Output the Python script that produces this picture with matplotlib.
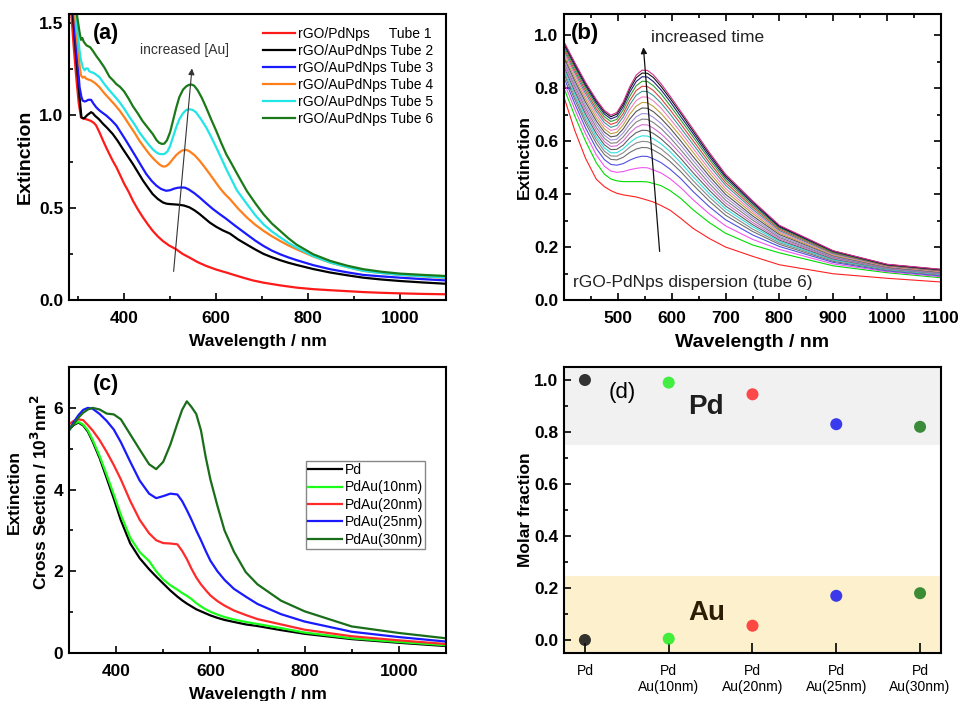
import matplotlib
matplotlib.use('Agg')
import matplotlib.pyplot as plt
from matplotlib.ticker import MultipleLocator

plt.rcParams['font.family'] = ['Liberation Sans', 'DejaVu Sans']

# ---------------- Panel (a) data ----------------
a_wl_t1 = [283, 290, 296, 301, 306, 312, 317, 323, 328, 334, 339, 346, 354, 361, 368, 375, 383, 391, 400, 410, 419, 430, 441, 452, 462, 473, 484, 498, 513, 527, 542, 560, 578, 600, 622, 640, 660, 680, 703, 740, 775, 810, 848, 885, 920, 960, 1000, 1050, 1100]
a_ext_t1 = [1.62, 1.38, 1.20, 1.07, 0.99, 0.982, 0.98, 0.975, 0.97, 0.96, 0.946, 0.91, 0.864, 0.826, 0.79, 0.755, 0.72, 0.678, 0.63, 0.585, 0.538, 0.49, 0.447, 0.408, 0.375, 0.345, 0.32, 0.295, 0.275, 0.25, 0.23, 0.205, 0.185, 0.165, 0.149, 0.135, 0.12, 0.106, 0.094, 0.079, 0.067, 0.059, 0.053, 0.048, 0.043, 0.039, 0.036, 0.033, 0.031]
a_wl_t2 = [286, 293, 299, 303, 307, 311, 314, 318, 321, 325, 328, 332, 336, 345, 354, 364, 375, 386, 397, 408, 419, 430, 441, 452, 462, 473, 484, 492, 499, 510, 520, 530, 542, 553, 564, 575, 586, 600, 614, 630, 648, 667, 685, 703, 721, 739, 757, 775, 811, 848, 885, 920, 960, 1000, 1050, 1100]
a_ext_t2 = [1.62, 1.40, 1.22, 1.10, 0.99, 0.985, 0.987, 0.998, 1.005, 1.012, 1.018, 1.012, 1.0, 0.98, 0.955, 0.93, 0.90, 0.862, 0.819, 0.778, 0.737, 0.692, 0.647, 0.608, 0.574, 0.548, 0.529, 0.522, 0.52, 0.518, 0.516, 0.512, 0.502, 0.486, 0.466, 0.443, 0.42, 0.397, 0.378, 0.36, 0.328, 0.30, 0.274, 0.25, 0.232, 0.216, 0.202, 0.19, 0.168, 0.149, 0.134, 0.121, 0.111, 0.103, 0.095, 0.088]
a_wl_t3 = [288, 295, 300, 303, 307, 310, 314, 317, 322, 328, 333, 339, 345, 350, 361, 372, 383, 393, 404, 415, 426, 437, 448, 460, 470, 480, 491, 500, 508, 516, 524, 532, 540, 552, 564, 578, 593, 608, 622, 640, 667, 685, 703, 721, 739, 757, 775, 811, 848, 885, 920, 960, 1000, 1050, 1100]
a_ext_t3 = [1.62, 1.38, 1.25, 1.154, 1.10, 1.08, 1.076, 1.078, 1.085, 1.085, 1.065, 1.045, 1.03, 1.02, 1.0, 0.975, 0.946, 0.907, 0.864, 0.819, 0.774, 0.728, 0.683, 0.645, 0.62, 0.602, 0.592, 0.595, 0.603, 0.608, 0.61, 0.609, 0.60, 0.58, 0.556, 0.525, 0.493, 0.465, 0.44, 0.405, 0.355, 0.322, 0.293, 0.268, 0.248, 0.231, 0.216, 0.189, 0.167, 0.15, 0.136, 0.128, 0.121, 0.113, 0.106]
a_wl_t4 = [290, 296, 300, 303, 306, 310, 314, 317, 322, 328, 337, 346, 357, 368, 379, 390, 401, 412, 423, 433, 444, 455, 465, 477, 483, 488, 494, 500, 506, 513, 520, 526, 531, 537, 542, 553, 564, 575, 586, 597, 607, 618, 630, 648, 667, 685, 703, 721, 739, 757, 775, 811, 848, 885, 920, 960, 1000, 1050, 1100]
a_ext_t4 = [1.62, 1.45, 1.35, 1.27, 1.217, 1.205, 1.21, 1.20, 1.195, 1.19, 1.175, 1.154, 1.12, 1.09, 1.06, 1.027, 0.988, 0.946, 0.905, 0.864, 0.826, 0.79, 0.762, 0.734, 0.725, 0.723, 0.73, 0.745, 0.764, 0.785, 0.80, 0.81, 0.813, 0.812, 0.806, 0.785, 0.755, 0.72, 0.683, 0.645, 0.61, 0.577, 0.547, 0.495, 0.447, 0.408, 0.375, 0.346, 0.32, 0.296, 0.275, 0.236, 0.203, 0.179, 0.158, 0.146, 0.136, 0.128, 0.12]
a_wl_t5 = [292, 297, 300, 303, 306, 310, 314, 317, 321, 324, 328, 332, 337, 346, 357, 368, 379, 390, 401, 412, 423, 433, 444, 455, 463, 470, 476, 482, 488, 494, 500, 506, 513, 520, 528, 535, 542, 549, 556, 567, 578, 589, 600, 611, 622, 630, 645, 667, 685, 703, 721, 739, 757, 775, 811, 848, 885, 920, 960, 1000, 1050, 1100]
a_ext_t5 = [1.62, 1.48, 1.42, 1.35, 1.30, 1.26, 1.245, 1.255, 1.254, 1.24, 1.235, 1.232, 1.225, 1.208, 1.17, 1.136, 1.105, 1.072, 1.033, 0.99, 0.95, 0.909, 0.872, 0.837, 0.815, 0.80, 0.792, 0.79, 0.792, 0.805, 0.835, 0.882, 0.935, 0.98, 1.012, 1.03, 1.034, 1.03, 1.018, 0.98, 0.937, 0.885, 0.828, 0.77, 0.71, 0.67, 0.595, 0.52, 0.46, 0.41, 0.372, 0.34, 0.31, 0.284, 0.238, 0.203, 0.179, 0.158, 0.146, 0.136, 0.129, 0.122]
a_wl_t6 = [294, 297, 300, 303, 306, 309, 312, 315, 318, 322, 326, 332, 340, 346, 357, 368, 376, 383, 391, 400, 410, 419, 430, 440, 451, 462, 470, 476, 482, 487, 493, 500, 506, 513, 520, 528, 535, 541, 546, 552, 560, 569, 578, 589, 600, 611, 622, 630, 651, 667, 685, 703, 721, 739, 757, 775, 811, 848, 885, 920, 960, 1000, 1050, 1100]
a_ext_t6 = [1.62, 1.55, 1.50, 1.45, 1.41, 1.42, 1.40, 1.39, 1.38, 1.375, 1.37, 1.35, 1.32, 1.30, 1.26, 1.21, 1.19, 1.17, 1.155, 1.13, 1.09, 1.05, 1.01, 0.97, 0.935, 0.90, 0.868, 0.852, 0.846, 0.847, 0.865, 0.91, 0.97, 1.04, 1.10, 1.14, 1.158, 1.166, 1.168, 1.162, 1.136, 1.095, 1.045, 0.98, 0.918, 0.852, 0.79, 0.755, 0.66, 0.59, 0.525, 0.465, 0.415, 0.375, 0.335, 0.30, 0.248, 0.212, 0.186, 0.167, 0.153, 0.143, 0.136, 0.13]
a_labels = ['rGO/PdNps     Tube 1', 'rGO/AuPdNps Tube 2', 'rGO/AuPdNps Tube 3',
            'rGO/AuPdNps Tube 4', 'rGO/AuPdNps Tube 5', 'rGO/AuPdNps Tube 6']
a_colors = ['#ff1a1a', '#000000', '#1a1aff', '#ff7f1a', '#22e5e5', '#1a7a1a']

# ---------------- Panel (b) data ----------------
b_wl = [400, 420, 440, 460, 475, 487, 498, 510, 522, 534, 545, 555, 566, 580, 597, 617, 640, 670, 700, 750, 800, 900, 1000, 1100]
b_ext = [
    [0.766, 0.640, 0.535, 0.456, 0.428, 0.413, 0.403, 0.397, 0.393, 0.389, 0.383, 0.377, 0.370, 0.357, 0.339, 0.308, 0.270, 0.232, 0.200, 0.165, 0.133, 0.099, 0.082, 0.068],
    [0.800, 0.695, 0.600, 0.518, 0.475, 0.457, 0.450, 0.447, 0.447, 0.447, 0.447, 0.446, 0.440, 0.432, 0.413, 0.383, 0.340, 0.292, 0.252, 0.208, 0.178, 0.129, 0.103, 0.084],
    [0.822, 0.720, 0.628, 0.548, 0.505, 0.487, 0.482, 0.485, 0.492, 0.497, 0.500, 0.499, 0.491, 0.480, 0.458, 0.424, 0.378, 0.325, 0.280, 0.229, 0.191, 0.136, 0.107, 0.088],
    [0.840, 0.741, 0.650, 0.572, 0.530, 0.512, 0.509, 0.515, 0.528, 0.538, 0.543, 0.542, 0.533, 0.519, 0.494, 0.458, 0.409, 0.352, 0.303, 0.246, 0.202, 0.142, 0.110, 0.091],
    [0.854, 0.757, 0.668, 0.591, 0.549, 0.531, 0.529, 0.539, 0.557, 0.570, 0.576, 0.575, 0.566, 0.550, 0.523, 0.484, 0.434, 0.373, 0.320, 0.259, 0.210, 0.146, 0.113, 0.094],
    [0.863, 0.768, 0.680, 0.605, 0.562, 0.544, 0.543, 0.556, 0.577, 0.593, 0.599, 0.598, 0.588, 0.571, 0.542, 0.502, 0.450, 0.388, 0.333, 0.268, 0.216, 0.150, 0.115, 0.096],
    [0.872, 0.778, 0.691, 0.616, 0.574, 0.556, 0.556, 0.571, 0.594, 0.612, 0.620, 0.619, 0.609, 0.590, 0.560, 0.518, 0.465, 0.401, 0.344, 0.277, 0.221, 0.152, 0.116, 0.097],
    [0.881, 0.788, 0.702, 0.628, 0.586, 0.568, 0.569, 0.585, 0.612, 0.632, 0.641, 0.640, 0.629, 0.609, 0.577, 0.534, 0.480, 0.414, 0.355, 0.285, 0.226, 0.155, 0.118, 0.099],
    [0.889, 0.798, 0.713, 0.640, 0.598, 0.580, 0.582, 0.601, 0.630, 0.652, 0.662, 0.661, 0.649, 0.628, 0.595, 0.551, 0.496, 0.427, 0.366, 0.293, 0.231, 0.158, 0.119, 0.100],
    [0.898, 0.808, 0.724, 0.652, 0.610, 0.592, 0.594, 0.616, 0.647, 0.672, 0.683, 0.682, 0.670, 0.648, 0.613, 0.567, 0.511, 0.440, 0.377, 0.302, 0.236, 0.161, 0.121, 0.102],
    [0.907, 0.818, 0.735, 0.664, 0.622, 0.604, 0.607, 0.631, 0.665, 0.692, 0.704, 0.703, 0.690, 0.667, 0.631, 0.584, 0.526, 0.454, 0.388, 0.310, 0.241, 0.164, 0.123, 0.104],
    [0.916, 0.828, 0.747, 0.676, 0.634, 0.616, 0.620, 0.646, 0.683, 0.712, 0.725, 0.724, 0.711, 0.686, 0.649, 0.600, 0.541, 0.467, 0.399, 0.318, 0.247, 0.167, 0.124, 0.105],
    [0.924, 0.838, 0.758, 0.688, 0.646, 0.628, 0.633, 0.661, 0.701, 0.732, 0.746, 0.745, 0.731, 0.705, 0.666, 0.617, 0.557, 0.480, 0.410, 0.327, 0.252, 0.169, 0.126, 0.107],
    [0.933, 0.849, 0.769, 0.700, 0.658, 0.640, 0.646, 0.676, 0.719, 0.753, 0.767, 0.766, 0.752, 0.725, 0.684, 0.633, 0.572, 0.493, 0.421, 0.335, 0.257, 0.172, 0.127, 0.108],
    [0.942, 0.859, 0.780, 0.712, 0.670, 0.652, 0.659, 0.691, 0.737, 0.773, 0.788, 0.787, 0.772, 0.744, 0.702, 0.649, 0.587, 0.507, 0.433, 0.343, 0.262, 0.175, 0.129, 0.110],
    [0.950, 0.868, 0.790, 0.722, 0.681, 0.663, 0.671, 0.704, 0.753, 0.791, 0.807, 0.806, 0.791, 0.761, 0.718, 0.664, 0.601, 0.519, 0.443, 0.351, 0.267, 0.178, 0.130, 0.111],
    [0.958, 0.877, 0.800, 0.733, 0.692, 0.674, 0.682, 0.718, 0.769, 0.809, 0.826, 0.825, 0.809, 0.779, 0.734, 0.679, 0.615, 0.531, 0.453, 0.358, 0.272, 0.180, 0.132, 0.113],
    [0.965, 0.885, 0.809, 0.743, 0.702, 0.684, 0.693, 0.730, 0.784, 0.825, 0.843, 0.842, 0.825, 0.794, 0.749, 0.692, 0.627, 0.541, 0.462, 0.365, 0.276, 0.183, 0.133, 0.114],
    [0.971, 0.892, 0.816, 0.751, 0.710, 0.692, 0.702, 0.740, 0.796, 0.839, 0.857, 0.856, 0.840, 0.807, 0.761, 0.704, 0.637, 0.550, 0.469, 0.371, 0.279, 0.185, 0.134, 0.115],
    [0.975, 0.897, 0.822, 0.757, 0.716, 0.698, 0.708, 0.748, 0.805, 0.849, 0.868, 0.867, 0.850, 0.817, 0.770, 0.712, 0.645, 0.557, 0.475, 0.375, 0.282, 0.186, 0.135, 0.116],
]
b_colors = ['#ff2020', '#00dd00', '#ee55ee', '#5050e0', '#707070', '#8a8a8a', '#30e0e0',
            '#606060', '#d070d0', '#808080', '#a090e0', '#555555', '#c0a040', '#f080c0',
            '#3a9a9a', '#e04040', '#30a030', '#202080', '#111111', '#d0308a']

# ---------------- Panel (c) data ----------------
c_wl = [300, 310, 320, 330, 340, 350, 365, 380, 395, 410, 430, 450, 470, 485, 500, 515, 530, 540, 550, 560,
        570, 580, 590, 600, 615, 630, 650, 675, 700, 750, 800, 900, 1000, 1100]
c_pd = [5.47, 5.58, 5.64, 5.57, 5.42, 5.18, 4.77, 4.28, 3.78, 3.25, 2.68, 2.32, 2.05, 1.87, 1.70, 1.53, 1.38, 1.29, 1.21, 1.14,
        1.07, 1.02, 0.97, 0.92, 0.86, 0.81, 0.76, 0.70, 0.66, 0.56, 0.47, 0.34, 0.25, 0.17]
c_au10 = [5.51, 5.60, 5.66, 5.59, 5.45, 5.22, 4.82, 4.36, 3.88, 3.38, 2.82, 2.47, 2.25, 2.00, 1.80, 1.66, 1.55, 1.47, 1.40, 1.32,
          1.22, 1.14, 1.07, 1.01, 0.94, 0.88, 0.82, 0.76, 0.71, 0.61, 0.50, 0.36, 0.27, 0.19]
c_au20 = [5.60, 5.68, 5.72, 5.70, 5.58, 5.45, 5.21, 4.92, 4.60, 4.25, 3.72, 3.26, 2.93, 2.76, 2.69, 2.68, 2.66, 2.50, 2.30, 2.06,
          1.85, 1.68, 1.54, 1.41, 1.27, 1.16, 1.04, 0.93, 0.83, 0.70, 0.57, 0.41, 0.31, 0.22]
c_au25 = [5.45, 5.65, 5.82, 5.95, 6.00, 5.98, 5.85, 5.68, 5.47, 5.16, 4.68, 4.22, 3.90, 3.79, 3.84, 3.90, 3.88, 3.72, 3.50, 3.26,
          3.00, 2.76, 2.50, 2.26, 2.00, 1.79, 1.57, 1.38, 1.20, 0.95, 0.77, 0.52, 0.39, 0.28]
c_au30 = [5.45, 5.60, 5.76, 5.88, 5.96, 6.00, 5.96, 5.86, 5.84, 5.72, 5.35, 4.98, 4.62, 4.50, 4.68, 5.10, 5.62, 5.95, 6.16, 6.02,
          5.85, 5.45, 4.80, 4.25, 3.60, 3.00, 2.48, 1.98, 1.68, 1.28, 1.02, 0.65, 0.49, 0.36]
c_labels = ['Pd', 'PdAu(10nm)', 'PdAu(20nm)', 'PdAu(25nm)', 'PdAu(30nm)']
c_colors = ['#000000', '#1aff1a', '#ff2a2a', '#1a1aff', '#1a6e1a']

# ---------------- Panel (d) data ----------------
d_samples = ['Pd', 'Pd\nAu(10nm)', 'Pd\nAu(20nm)', 'Pd\nAu(25nm)', 'Pd\nAu(30nm)']
d_pd_frac = [1.0, 0.99, 0.945, 0.83, 0.82]
d_au_frac = [0.0, 0.005, 0.055, 0.17, 0.18]
d_colors = ['#111111', '#22ee22', '#ff2a2a', '#1a1aee', '#1a7a1a']

# ---------------- Figure ----------------
W, H = 962, 701
fig = plt.figure(figsize=(W / 100, H / 100), dpi=100)


def rect(l, t, r, b):
    return [l / W, 1 - b / H, (r - l) / W, (b - t) / H]


axA = fig.add_axes(rect(69, 14, 446, 300))
axB = fig.add_axes(rect(564, 14, 941, 300))
axC = fig.add_axes(rect(69, 367, 446, 653))
axD = fig.add_axes(rect(564, 367, 941, 653))


def style(ax, allsides=False, tsize=12.5):
    for s in ax.spines.values():
        s.set_linewidth(1.5)
    ax.tick_params(which='both', direction='in', top=allsides, right=allsides,
                   width=1.2, labelsize=tsize, pad=4)
    ax.tick_params(axis='x', which='both', pad=8)
    ax.tick_params(which='major', length=5)
    ax.tick_params(which='minor', length=3)
    for lb in ax.get_xticklabels() + ax.get_yticklabels():
        lb.set_fontweight('bold')


# ---- (a)
a_sets = [(a_wl_t1, a_ext_t1), (a_wl_t2, a_ext_t2), (a_wl_t3, a_ext_t3),
          (a_wl_t4, a_ext_t4), (a_wl_t5, a_ext_t5), (a_wl_t6, a_ext_t6)]
for (x, y), lab, col in zip(a_sets, a_labels, a_colors):
    axA.plot(x, y, color=col, lw=1.6, label=lab)
axA.set_xlim(280, 1100)
axA.set_ylim(0, 1.55)
axA.xaxis.set_major_locator(MultipleLocator(200))
axA.xaxis.set_minor_locator(MultipleLocator(100))
axA.yaxis.set_major_locator(MultipleLocator(0.5))
axA.yaxis.set_minor_locator(MultipleLocator(0.25))
style(axA)
axA.set_xlabel('Wavelength / nm', fontsize=12.5, fontweight='bold', labelpad=6)
axA.set_ylabel('Extinction', fontsize=14, fontweight='bold', labelpad=4)
axA.annotate('', xy=(548, 1.27), xytext=(507, 0.14),
             arrowprops=dict(arrowstyle='-|>', color='#333333', lw=0.8, mutation_scale=9))
axA.text(531, 1.355, 'increased [Au]', ha='center', va='center', fontsize=10, color='#333333')
axA.text(361, 1.447, '(a)', ha='center', va='center', fontsize=15.5, fontweight='bold')
axA.legend(loc='upper left', bbox_to_anchor=(0.514, 0.955), frameon=False, fontsize=10,
           handlelength=2.3, handletextpad=0.25, labelspacing=0.22, borderpad=0, borderaxespad=0)

# ---- (b)
for y, col in zip(b_ext, b_colors):
    axB.plot(b_wl, y, color=col, lw=0.8)
axB.set_xlim(400, 1100)
axB.set_ylim(0, 1.08)
axB.xaxis.set_major_locator(MultipleLocator(100))
axB.xaxis.set_minor_locator(MultipleLocator(50))
axB.yaxis.set_major_locator(MultipleLocator(0.2))
axB.yaxis.set_minor_locator(MultipleLocator(0.1))
style(axB, allsides=True)
axB.set_xticks([500, 600, 700, 800, 900, 1000, 1100])
for lb in axB.get_xticklabels():
    lb.set_fontweight('bold')
axB.set_xlabel('Wavelength / nm', fontsize=14, fontweight='bold', labelpad=6)
axB.set_ylabel('Extinction', fontsize=12.5, fontweight='bold', labelpad=2)
axB.annotate('', xy=(547, 0.965), xytext=(578, 0.173),
             arrowprops=dict(arrowstyle='-|>', color='#111111', lw=0.9, mutation_scale=9))
axB.text(562, 0.99, 'increased time', ha='left', va='center', fontsize=12.5, color='#222222')
axB.text(417, 0.066, 'rGO-PdNps dispersion (tube 6)', ha='left', va='center', fontsize=12.5, color='#222222')
axB.text(439, 1.005, '(b)', ha='center', va='center', fontsize=16, fontweight='bold')

# ---- (c)
for y, lab, col in zip([c_pd, c_au10, c_au20, c_au25, c_au30], c_labels, c_colors):
    axC.plot(c_wl, y, color=col, lw=1.6, label=lab)
axC.set_xlim(300, 1100)
axC.set_ylim(0, 7)
axC.xaxis.set_major_locator(MultipleLocator(200))
axC.xaxis.set_minor_locator(MultipleLocator(100))
axC.yaxis.set_major_locator(MultipleLocator(2))
axC.yaxis.set_minor_locator(MultipleLocator(1))
style(axC)
axC.set_xlabel('Wavelength / nm', fontsize=12.5, fontweight='bold', labelpad=6)
axC.text(-0.145, 0.563, 'Extinction', transform=axC.transAxes, rotation=90,
         ha='center', va='center', fontsize=12.5, fontweight='bold')
axC.text(-0.078, 0.563, r'Cross Section / 10$^\mathbf{3}$nm$^\mathbf{2}$', transform=axC.transAxes,
         rotation=90, ha='center', va='center', fontsize=12.5, fontweight='bold')
axC.text(378, 6.57, '(c)', ha='center', va='center', fontsize=15.5, fontweight='bold')
legC = axC.legend(loc='upper left', bbox_to_anchor=(0.629, 0.672), fontsize=10, fancybox=False,
                  edgecolor='#888888', framealpha=1, handlelength=2.4, handletextpad=0.25,
                  labelspacing=0.25, borderpad=0.15, borderaxespad=0)
legC.get_frame().set_linewidth(1.0)

# ---- (d)
xs = list(range(1, len(d_samples) + 1))
axD.axhspan(0.75, 1.2, color='#f1f1f1', zorder=0, lw=0)
axD.axhspan(-0.2, 0.245, color='#fdf0cd', zorder=0, lw=0)
axD.scatter(xs, d_pd_frac, s=75, c=d_colors, alpha=0.85, zorder=3, linewidths=0)
axD.scatter(xs, d_au_frac, s=75, c=d_colors, alpha=0.85, zorder=3, linewidths=0)
axD.set_xlim(0.75, 5.25)
axD.set_ylim(-0.05, 1.05)
axD.set_xticks(xs)
axD.set_xticklabels(d_samples)
axD.yaxis.set_major_locator(MultipleLocator(0.2))
axD.yaxis.set_minor_locator(MultipleLocator(0.1))
style(axD)
for lb in axD.get_xticklabels():
    lb.set_fontweight('normal')
    lb.set_fontsize(10)
axD.tick_params(axis='x', which='major', length=7, pad=8)
axD.set_ylabel('Molar fraction', fontsize=12.5, fontweight='bold', labelpad=1)
axD.text(1.44, 0.952, '(d)', ha='center', va='center', fontsize=16)
axD.text(2.45, 0.895, 'Pd', ha='center', va='center', fontsize=20, fontweight='bold', color='#1e1e1e')
axD.text(2.45, 0.103, 'Au', ha='center', va='center', fontsize=20, fontweight='bold', color='#2a1e05')

fig.savefig('out.png', dpi=100)
